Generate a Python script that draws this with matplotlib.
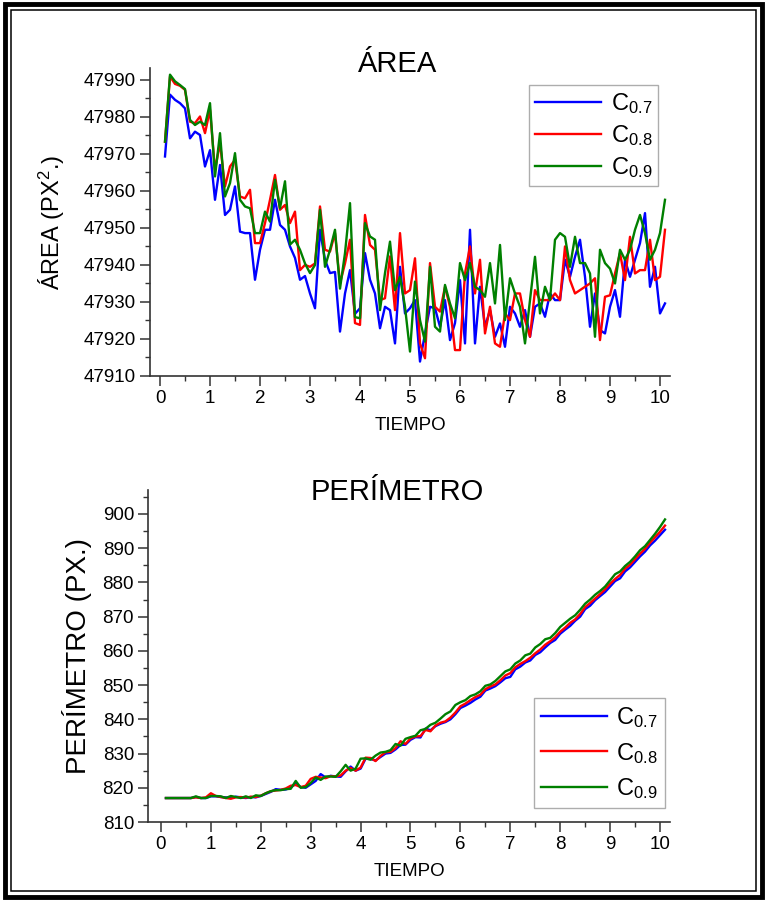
import numpy as np
import matplotlib
matplotlib.use('Agg')
import matplotlib.pyplot as plt
from matplotlib.patches import Rectangle
from matplotlib.ticker import MultipleLocator

plt.rcParams['font.family'] = ['Liberation Sans', 'DejaVu Sans']
plt.rcParams['mathtext.fontset'] = 'custom'
plt.rcParams['mathtext.rm'] = 'Liberation Sans'
plt.rcParams['mathtext.it'] = 'Liberation Sans'

#----- datos -----
tiempo = np.linspace(0.1, 10.1, 101)

area_c07 = [47969.3, 47986.0, 47984.6, 47983.7, 47982.3, 47974.2, 47976.0, 47975.1, 47966.6, 47971.0,
            47957.6, 47967.0, 47953.5, 47954.9, 47961.2, 47949.0, 47948.6, 47948.6, 47936.0, 47944.1,
            47949.5, 47949.5, 47957.6, 47950.8, 47949.5, 47945.0, 47941.9, 47936.0, 47937.0, 47932.3,
            47928.3, 47949.5, 47941.4, 47937.8, 47938.1, 47922.0, 47932.3, 47938.6, 47926.8, 47928.3,
            47943.2, 47936.0, 47932.3, 47922.9, 47928.7, 47927.8, 47918.8, 47939.5, 47926.9, 47928.3,
            47930.5, 47913.9, 47921.5, 47928.7, 47928.3, 47923.3, 47930.5, 47919.7, 47924.3, 47935.9,
            47918.8, 47949.5, 47918.8, 47934.1, 47923.3, 47927.8, 47920.6, 47924.2, 47917.9, 47928.7,
            47926.9, 47923.3, 47927.8, 47920.6, 47928.7, 47929.6, 47926.0, 47932.3, 47930.5, 47930.5,
            47941.4, 47936.8, 47942.2, 47946.8, 47936.8, 47923.3, 47932.3, 47922.4, 47921.5, 47928.7,
            47933.2, 47926.0, 47941.4, 47936.8, 47941.4, 47945.9, 47954.0, 47934.1, 47939.5, 47926.9,
            47929.6]
area_c08 = [47973.3, 47990.9, 47988.9, 47988.4, 47987.3, 47978.7, 47978.3, 47980.1, 47975.6, 47981.9,
            47965.7, 47972.9, 47961.2, 47966.6, 47968.4, 47958.5, 47958.0, 47960.3, 47945.9, 47945.9,
            47951.3, 47957.6, 47964.3, 47954.9, 47956.2, 47951.3, 47954.4, 47938.6, 47940.0, 47939.5,
            47940.4, 47955.8, 47944.1, 47943.6, 47948.6, 47935.0, 47940.4, 47946.8, 47924.3, 47923.8,
            47953.5, 47945.4, 47944.1, 47930.5, 47931.0, 47942.3, 47927.8, 47948.6, 47932.3, 47933.2,
            47941.8, 47918.8, 47914.8, 47940.5, 47928.7, 47927.4, 47934.1, 47928.7, 47917.0, 47917.0,
            47937.7, 47945.0, 47932.3, 47941.4, 47921.5, 47928.7, 47918.8, 47917.9, 47926.9, 47925.1,
            47932.3, 47932.3, 47925.1, 47920.6, 47933.2, 47930.5, 47930.5, 47930.5, 47932.3, 47930.5,
            47945.0, 47935.9, 47932.3, 47933.2, 47934.1, 47935.0, 47936.4, 47919.7, 47931.4, 47931.8,
            47937.7, 47943.2, 47935.9, 47947.6, 47937.7, 47938.6, 47938.6, 47946.8, 47935.9, 47936.8,
            47949.5]
area_c09 = [47973.3, 47991.4, 47989.6, 47988.6, 47987.5, 47979.2, 47977.8, 47978.7, 47977.8, 47983.7,
            47963.9, 47975.6, 47958.5, 47962.1, 47970.2, 47957.6, 47955.8, 47955.3, 47948.6, 47948.6,
            47954.4, 47951.7, 47963.0, 47955.3, 47962.6, 47945.5, 47946.8, 47944.1, 47940.4, 47937.8,
            47940.0, 47954.9, 47939.5, 47944.1, 47949.5, 47933.6, 47943.2, 47956.7, 47925.9, 47925.6,
            47951.3, 47947.7, 47946.8, 47927.8, 47937.8, 47946.3, 47933.2, 47936.8, 47928.7, 47916.6,
            47935.5, 47925.1, 47919.3, 47939.5, 47923.3, 47922.0, 47934.6, 47929.6, 47925.6, 47940.5,
            47935.9, 47940.5, 47934.1, 47933.2, 47931.4, 47940.5, 47929.6, 47945.4, 47925.1, 47936.4,
            47932.3, 47928.7, 47918.8, 47930.5, 47942.2, 47926.9, 47934.1, 47930.5, 47946.8, 47948.6,
            47947.6, 47939.5, 47947.6, 47940.5, 47940.5, 47937.7, 47920.6, 47944.1, 47940.5, 47939.0,
            47935.0, 47944.1, 47941.4, 47944.1, 47949.5, 47953.5, 47948.6, 47941.4, 47944.1, 47948.6,
            47957.6]

perim_c07 = [817.0, 817.0, 817.0, 817.0, 817.0, 817.0, 817.3, 817.0, 817.0, 817.5,
             817.5, 817.3, 817.2, 817.0, 817.4, 817.2, 817.0, 817.3, 817.2, 817.6,
             818.2, 818.8, 819.6, 819.4, 819.5, 820.0, 821.3, 820.2, 820.0, 821.0,
             822.0, 824.0, 823.0, 823.5, 823.3, 823.2, 824.8, 826.2, 825.0, 825.6,
             828.5, 828.4, 828.0, 829.0, 830.0, 830.2, 831.2, 832.5, 832.6, 834.0,
             834.8, 834.7, 837.3, 836.8, 838.0, 838.7, 839.2, 840.0, 841.5, 843.3,
             844.0, 844.8, 845.8, 846.6, 848.4, 849.0, 849.7, 850.8, 852.0, 852.4,
             854.6, 855.4, 856.6, 857.2, 858.8, 859.6, 861.0, 862.3, 863.2, 865.0,
             866.2, 867.3, 868.8, 870.0, 872.2, 873.2, 874.8, 876.0, 877.2, 878.8,
             880.4, 881.2, 883.2, 884.4, 886.0, 887.6, 889.0, 890.8, 892.2, 893.8,
             895.4]
perim_c08 = [817.0, 817.0, 817.0, 817.0, 817.0, 817.0, 817.2, 817.0, 817.2, 818.4,
             817.6, 817.3, 817.0, 816.8, 817.2, 817.3, 817.1, 817.4, 817.3, 817.7,
             818.4, 819.0, 819.2, 819.4, 819.8, 820.6, 820.8, 820.2, 820.6, 822.6,
             823.2, 823.0, 822.8, 823.4, 823.3, 823.6, 825.0, 825.8, 825.0, 825.9,
             828.8, 828.7, 827.8, 829.3, 830.4, 830.5, 831.6, 833.6, 832.8, 834.4,
             835.0, 835.1, 836.9, 836.5, 838.2, 839.0, 839.4, 840.5, 842.0, 843.8,
             844.6, 845.6, 846.5, 847.2, 848.8, 849.6, 850.2, 851.4, 852.8, 853.5,
             855.2, 856.2, 857.0, 858.0, 859.3, 860.4, 861.8, 862.8, 864.0, 865.6,
             866.8, 868.2, 869.2, 870.8, 872.8, 874.0, 875.3, 876.6, 878.0, 879.6,
             881.0, 882.2, 884.0, 885.2, 886.8, 888.4, 889.8, 891.6, 893.2, 894.8,
             896.6]
perim_c09 = [817.0, 817.0, 817.0, 817.0, 817.0, 817.0, 817.5, 817.0, 817.0, 817.6,
             817.6, 817.5, 817.0, 817.6, 817.3, 817.0, 817.5, 817.0, 817.8, 817.6,
             818.4, 819.0, 819.3, 819.3, 819.6, 819.7, 822.0, 820.0, 820.2, 821.4,
             823.0, 822.3, 823.3, 823.3, 823.2, 824.8, 826.7, 825.0, 825.6, 828.5,
             828.6, 828.2, 829.4, 830.3, 830.5, 831.0, 832.8, 832.3, 834.3, 834.8,
             835.2, 836.8, 837.2, 838.4, 839.0, 840.2, 841.5, 842.3, 844.2, 845.0,
             845.6, 846.8, 847.3, 848.2, 849.8, 850.2, 851.2, 852.6, 854.0, 854.6,
             856.3, 857.2, 858.7, 859.2, 861.0, 862.0, 863.4, 863.8, 865.2, 867.0,
             868.2, 869.4, 870.4, 872.0, 873.8, 875.0, 876.4, 877.5, 878.8, 880.6,
             882.4, 883.2, 884.8, 886.0, 887.6, 889.4, 890.6, 892.4, 894.2, 896.2,
             898.4]

etiquetas = [r'$\mathregular{C_{0.7}}$', r'$\mathregular{C_{0.8}}$', r'$\mathregular{C_{0.9}}$']
colores = ['#0000ff', '#ff0000', '#008000']

fig = plt.figure(figsize=(7.67, 9.01), dpi=100)

# marco doble alrededor de la figura
fig.patches.append(Rectangle((5/767, 4/901), 757/767, 893/901, transform=fig.transFigure,
                             fill=False, edgecolor='black', linewidth=3.5))
fig.patches.append(Rectangle((11/767, 10/901), 745/767, 881/901, transform=fig.transFigure,
                             fill=False, edgecolor='black', linewidth=1.1))

ax1 = fig.add_axes([150/767, 1 - 376/901, 520/767, 308/901])
ax2 = fig.add_axes([148/767, 1 - 822/901, 522/767, 332/901])


def estilo(ax):
    for s in ['top', 'right']:
        ax.spines[s].set_visible(False)
    for s in ['left', 'bottom']:
        ax.spines[s].set_color('#333333')
        ax.spines[s].set_linewidth(1.2)
    ax.xaxis.set_major_locator(MultipleLocator(1))
    ax.xaxis.set_minor_locator(MultipleLocator(0.5))
    ax.yaxis.set_major_locator(MultipleLocator(10))
    ax.yaxis.set_minor_locator(MultipleLocator(5))
    ax.tick_params(which='major', direction='out', length=7, width=1.1, color='#333333',
                   labelsize=13.5, pad=3)
    ax.tick_params(which='minor', direction='out', length=3.5, width=1.0, color='#333333')
    ax.set_xlabel('TIEMPO', fontsize=13.5, labelpad=7)


#===== ÁREA =====
for serie, lab, col in zip([area_c07, area_c08, area_c09], etiquetas, colores):
    ax1.plot(tiempo, serie, color=col, linewidth=1.7, label=lab)
ax1.set_xlim(-0.2, 10.2)
ax1.set_ylim(47910, 47993.2)
estilo(ax1)
ax1.yaxis.set_major_formatter(matplotlib.ticker.FormatStrFormatter('%d'))
ax1.set_ylabel('ÁREA (PX$^{2}$.)', fontsize=17, labelpad=12)
fig.text(398/767, 1 - 72/901, 'ÁREA', fontsize=21, ha='center', va='baseline')
ax1.legend(loc='upper right', bbox_to_anchor=(658/767, 1 - 85/901),
           bbox_transform=fig.transFigure, fontsize=17, frameon=True, fancybox=False,
           edgecolor='#999999', handlelength=2.8, labelspacing=0.3, borderpad=0.25,
           handletextpad=0.4, borderaxespad=0)

#===== PERÍMETRO =====
for serie, lab, col in zip([perim_c07, perim_c08, perim_c09], etiquetas, colores):
    ax2.plot(tiempo, serie, color=col, linewidth=1.7, label=lab)
ax2.set_xlim(-0.26, 10.2)
ax2.set_ylim(810, 907)
estilo(ax2)
ax2.set_ylabel('PERÍMETRO (PX.)', fontsize=20, labelpad=8)
fig.text(397/767, 1 - 500/901, 'PERÍMETRO', fontsize=21, ha='center', va='baseline')
ax2.legend(loc='upper right', bbox_to_anchor=(665/767, 1 - 698/901),
           bbox_transform=fig.transFigure, fontsize=17, frameon=True, fancybox=False,
           edgecolor='#999999', handlelength=2.8, labelspacing=0.45, borderpad=0.3,
           handletextpad=0.4, borderaxespad=0)

fig.savefig('out.png', dpi=100)
